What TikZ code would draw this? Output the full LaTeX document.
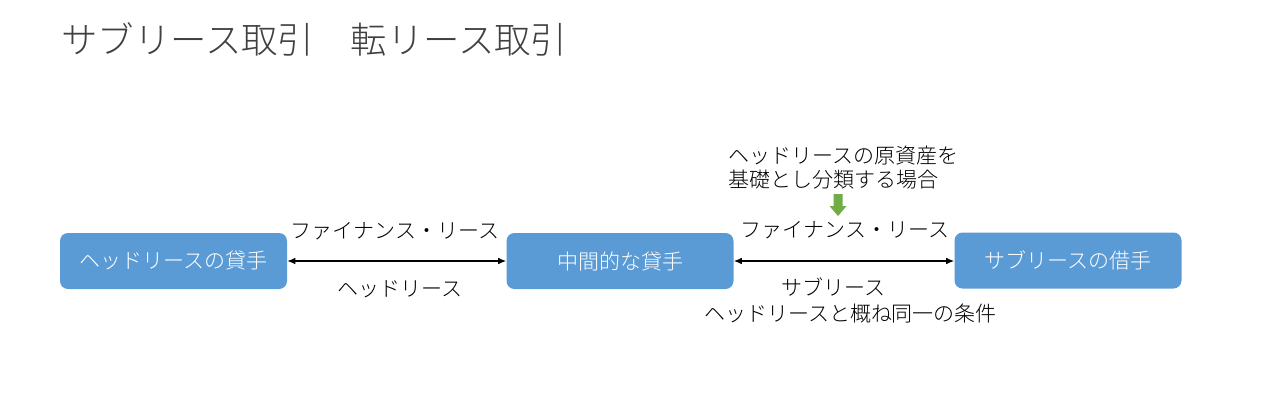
\documentclass[tikz,border=0pt]{standalone}
\usepackage{fontspec}
\setmainfont{Noto Sans CJK JP}[UprightFont={* Light}]
\usetikzlibrary{arrows.meta}
\definecolor{boxblue}{HTML}{5B9BD5}
\definecolor{arrgreen}{HTML}{70AD47}
\definecolor{titlegray}{HTML}{404040}
\begin{document}
\begin{tikzpicture}[x=0.75pt,y=-0.75pt,
  boxnode/.style={fill=boxblue,rounded corners=6pt,minimum width=170.25pt,minimum height=42pt,inner sep=0pt,text=white,font=\fontsize{15.75pt}{18pt}\selectfont},
  lbl/.style={inner sep=0pt,font=\fontsize{15.75pt}{18pt}\selectfont,text=black},
  link/.style={{Latex[length=6pt,width=5pt]}-{Latex[length=6pt,width=5pt]},line width=1pt,black}]
\useasboundingbox (0,0) rectangle (1280,405);
\fill[white] (0,0) rectangle (1280,405);
\node[anchor=west,inner sep=0pt,text=titlegray,font=\fontsize{27.3pt}{30pt}\selectfont] (title) at (61,39) {サブリース取引　転リース取引};
\node[boxnode] (lessor) at (173.5,261) {ヘッドリースの貸手};
\node[boxnode] (mid) at (620,261) {中間的な貸手};
\node[boxnode] (lessee) at (1068,260.5) {サブリースの借手};
\draw[link] (lessor.east) -- (mid.west);
\draw[link] (mid.east) -- (mid.east -| lessee.west);
\node[lbl] (fl1) at (395,231) {ファイナンス・リース};
\node[lbl] (hl) at (399.5,289) {ヘッドリース};
\node[lbl,anchor=west,align=left] (note) at (728,168) {ヘッドリースの原資産を\\基礎とし分類する場合};
\node[lbl] (fl2) at (845,230) {ファイナンス・リース};
\node[lbl] (sl) at (833,287) {サブリース};
\node[lbl] (cond) at (850.5,314) {ヘッドリースと概ね同一の条件};
\fill[arrgreen] (833.5,194) -- (842.5,194) -- (842.5,206) -- (846.5,206) -- (838,216) -- (829.5,206) -- (833.5,206) -- cycle;
\end{tikzpicture}
\end{document}
